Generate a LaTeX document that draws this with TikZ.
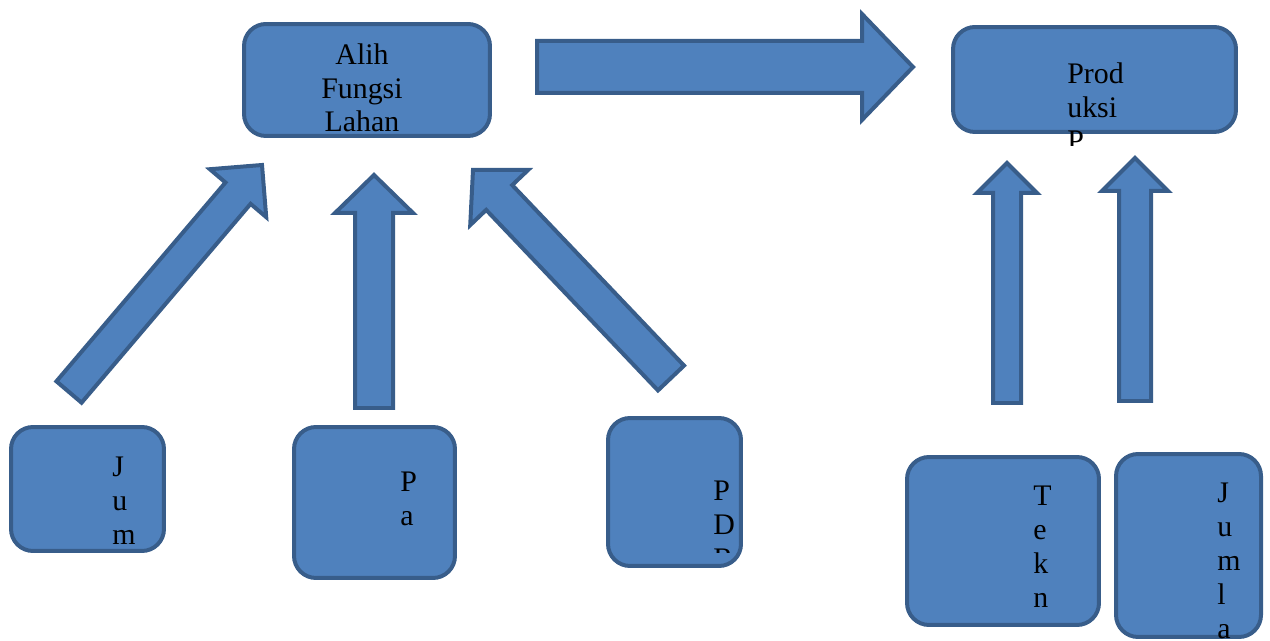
\documentclass[tikz,border=0pt]{standalone}
\usepackage{fontspec}
\setmainfont{Liberation Serif}
\usepackage{tikz}
\usetikzlibrary{calc}
\usetikzlibrary{positioning}
\definecolor{boxfill}{HTML}{4F81BD}
\definecolor{boxline}{HTML}{385D8A}
% block arrow: name, tail, tip, shaft half width, head half width, head length
\newcommand{\blockarrow}[6]{%
	\coordinate (#1-b) at ($(#3)!#6!(#2)$);
	\path[barrow] ($(#2)!#4!90:(#3)$) -- ($(#1-b)!#4!90:(#3)$) -- ($(#1-b)!#5!90:(#3)$) -- (#3)
		-- ($(#1-b)!#5!-90:(#3)$) -- ($(#1-b)!#4!-90:(#3)$) -- ($(#2)!#4!-90:(#3)$) -- cycle;}

\begin{document}
\begin{tikzpicture}[x=0.02cm,y=-0.02cm,
		block/.style={rectangle,rounded corners=0.44cm,draw=boxline,fill=boxfill,line width=0.08cm},
		barrow/.style={draw=boxline,fill=boxfill,line width=0.08cm},
		lbl/.style={inner sep=0pt,font=\fontsize{17}{19.3}\selectfont}]
		\clip (0,0) rectangle (1270,641);
		
		\node[block,minimum width=4.92cm,minimum height=2.24cm]  (alih)   at (367,80)      {};
		\node[block,minimum width=5.66cm,minimum height=2.10cm]  (prod)   at (1094.5,79.5) {};
		\node[block,minimum width=3.06cm,minimum height=2.48cm]  (jum)    at (87.5,489)    {};
		\node[block,minimum width=3.22cm,minimum height=3.02cm]  (pa)     at (374.5,502.5) {};
		\node[block,minimum width=2.66cm,minimum height=2.96cm]  (pdb)    at (674.5,492)   {};
		\node[block,minimum width=3.84cm,minimum height=3.36cm]  (tekn)   at (1003,541)    {};
		\node[block,minimum width=2.90cm,minimum height=3.66cm]  (jumla)  at (1188.5,545.5) {};
		
		% labels sit on the baseline of their last line
		\node[lbl,align=center,anchor=base]     (alihtxt)  at (362,132)  {Alih\\Fungsi\\Lahan};
		\begin{scope}
			\clip (951,25) rectangle (1238,146);
			\node[lbl,align=left,anchor=base west]  (prodtxt)  at (1067,151) {Prod\\uksi\\P};
		\end{scope}
		\node[lbl,align=left,anchor=base west]  (jumtxt)   at (112,544)  {J\\u\\m};
		\node[lbl,align=left,anchor=base west]  (patxt)    at (400,525)  {P\\a};
		\begin{scope}
			\clip (606,416) rectangle (743,552);
			\node[lbl,align=left,anchor=base west]  (pdbtxt)  at (713,568)  {P\\D\\R};
		\end{scope}
		\node[lbl,align=left,anchor=base west]  (tekntxt)  at (1033,607) {T\\e\\k\\n};
		\node[lbl,align=left,anchor=base west]  (jumlatxt) at (1217,638) {J\\u\\m\\l\\a};
		
		\coordinate (main-s)  at (537,67);   \coordinate (main-e)  at (913,67);
		\coordinate (jum-s)   at (69,392);   \coordinate (jum-e)   at (262,165);
		\coordinate (pa-s)    at (374,408);  \coordinate (pa-e)    at (374,175);
		\coordinate (pdb-s)   at (671,378);  \coordinate (pdb-e)   at (473,170);
		\coordinate (tekn-s)  at (1007,403); \coordinate (tekn-e)  at (1007,163);
		\coordinate (jumla-s) at (1135,401); \coordinate (jumla-e) at (1135,158);
		
		\blockarrow{main}{main-s}{main-e}{0.52cm}{1.06cm}{1.02cm}
		\blockarrow{jum}{jum-s}{jum-e}{0.33cm}{0.74cm}{0.74cm}
		\blockarrow{pa}{pa-s}{pa-e}{0.38cm}{0.78cm}{0.76cm}
		\blockarrow{pdb}{pdb-s}{pdb-e}{0.36cm}{0.80cm}{0.76cm}
		\blockarrow{tekn}{tekn-s}{tekn-e}{0.28cm}{0.60cm}{0.60cm}
		\blockarrow{jumla}{jumla-s}{jumla-e}{0.32cm}{0.66cm}{0.66cm}
\end{tikzpicture}
\end{document}
